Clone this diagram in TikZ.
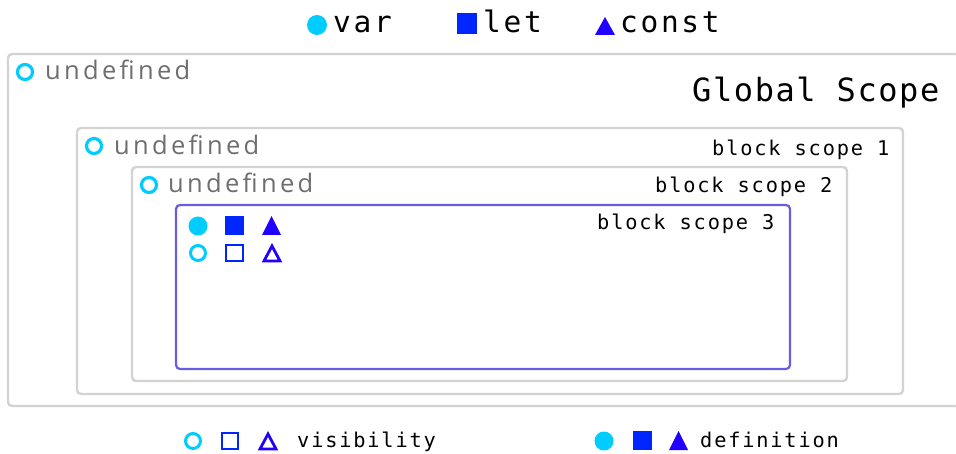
\documentclass[tikz,border=0pt]{standalone}
\usepackage{fontspec}
\newfontfamily\monoL[LetterSpace=9]{DejaVu Sans Mono}
\newfontfamily\monoG[LetterSpace=5]{DejaVu Sans Mono}
\newfontfamily\monoS[LetterSpace=9]{DejaVu Sans Mono}
\newfontfamily\undf[LetterSpace=13]{Open Sans}
\definecolor{cvar}{HTML}{00CCFF}
\definecolor{clet}{HTML}{0026FF}
\definecolor{cconst}{HTML}{2200FF}
\definecolor{boxgrey}{HTML}{D3D3D3}
\definecolor{innerbox}{HTML}{6A5CE0}
\definecolor{undgrey}{HTML}{6E6E6E}
\tikzset{
  scopebox/.style={draw=boxgrey, line width=2.4pt, rounded corners=4pt},
  innerscope/.style={draw=innerbox, line width=2.2pt, rounded corners=4pt},
  legendtext/.style={anchor=base west, inner sep=0pt, font=\monoL\fontsize{29.5}{31}\selectfont},
  globaltext/.style={anchor=base west, inner sep=0pt, font=\monoG\fontsize{32}{34}\selectfont},
  scopetext/.style={anchor=base west, inner sep=0pt, font=\monoS\fontsize{20.3}{22}\selectfont},
  undeftext/.style={anchor=base west, inner sep=0pt, text=undgrey, font=\undf\fontsize{25.5}{27}\selectfont},
  opencirc/.style={draw=cvar, line width=3.2pt},
  openvar/.style={draw=cvar, line width=3pt},
  openlet/.style={draw=clet, line width=2.8pt},
  openconst/.style={draw=cconst, line width=2.8pt, line join=miter},
}
\begin{document}
\begin{tikzpicture}[x=1pt,y=-1pt]
\useasboundingbox (0,0) rectangle (956,454);
% top legend
\fill[cvar] (317,25) circle (10);
\node[legendtext] (tvar) at (333,33) {var};
\fill[clet] (457,13) rectangle (477,34);
\node[legendtext] (tlet) at (483,33) {let};
\fill[cconst] (595,35) -- (615,35) -- (605,17) -- cycle;
\node[legendtext] (tconst) at (620,33) {const};
% boxes
\draw[scopebox] (8,54) rectangle (960,406);
\draw[scopebox] (77,128) rectangle (903,394);
\draw[scopebox] (132,167) rectangle (847,381);
\draw[innerscope] (176,205) rectangle (790,369);
% global
\draw[opencirc] (25,72) circle (7.5);
\node[undeftext] (u0) at (45,80) {undefined};
\node[globaltext] (gs) at (692,102) {Global Scope};
% block 1
\draw[opencirc] (94,146) circle (7.5);
\node[undeftext] (u1) at (114,155) {undefined};
\node[scopetext] (b1) at (712,156) {block scope 1};
% block 2
\draw[opencirc] (149,185) circle (7.5);
\node[undeftext] (u2) at (168,193) {undefined};
\node[scopetext] (b2) at (655,193) {block scope 2};
% block 3
\node[scopetext] (b3) at (597,230) {block scope 3};
\fill[cvar] (198,226) circle (9.5);
\fill[clet] (225,216) rectangle (244,235);
\fill[cconst] (262,235) -- (281,235) -- (271.5,216) -- cycle;
\draw[openvar] (198,253) circle (7.5);
\draw[openlet] (226,245) rectangle (243,261);
\draw[openconst] (264,261) -- (280,261) -- (272,246) -- cycle;
% bottom legend
\draw[openvar] (193,441) circle (7.5);
\draw[openlet] (222,433) rectangle (238,449);
\draw[openconst] (260,449) -- (276,449) -- (268,434) -- cycle;
\node[scopetext] (vis) at (297,447) {visibility};
\fill[cvar] (604,441) circle (9.5);
\fill[clet] (633,431) rectangle (652,450);
\fill[cconst] (669,450) -- (688,450) -- (678.5,431) -- cycle;
\node[scopetext] (def) at (700,447) {definition};
\end{tikzpicture}
\end{document}
